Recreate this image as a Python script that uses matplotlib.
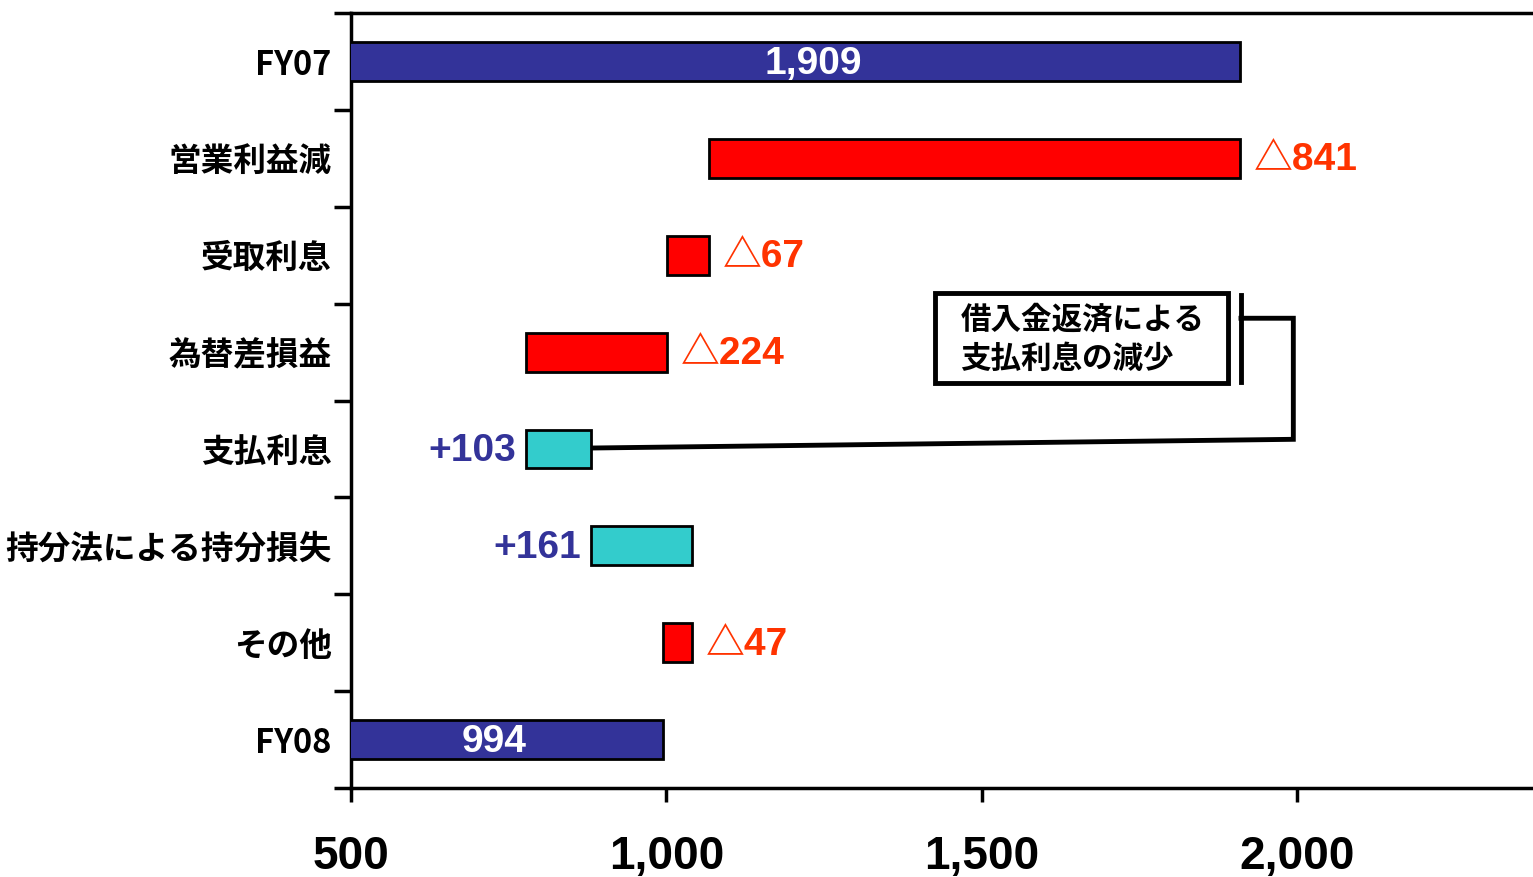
import matplotlib
matplotlib.use("Agg")
import matplotlib.pyplot as plt
from matplotlib.patches import Rectangle
import numpy as np

plt.rcParams['font.family'] = ['Liberation Sans', 'Noto Sans CJK JP', 'DejaVu Sans']

categories = ["FY07", "営業利益減", "受取利息", "為替差損益", "支払利息",
              "持分法による持分損失", "その他", "FY08"]
starts = [0, 1068, 1001, 777, 777, 880, 994, 0]
ends = [1909, 1909, 1068, 1001, 880, 1041, 1041, 994]
kinds = ["total", "down", "down", "down", "up", "up", "down", "total"]
labels = ["1,909", "△841", "△67", "△224", "+103", "+161", "△47", "994"]
note_text = "借入金返済による\n支払利息の減少"
xticks = [500, 1000, 1500, 2000]
xticklabels = ["500", "1,000", "1,500", "2,000"]

fill = {"total": "#333399", "down": "#FF0000", "up": "#33CCCC"}
txt_col = {"total": "white", "down": "#FF3300", "up": "#333399"}

xmin, xmax = 500, 2374

fig = plt.figure(figsize=(15.33, 8.77), dpi=100)
ax = fig.add_axes([0.229, 0.1015, 0.771, 0.8835])

y = np.arange(len(categories))
for i, (s, e, k, lab) in enumerate(zip(starts, ends, kinds, labels)):
    ax.barh(i, e - s, left=s, height=0.4, color=fill[k], edgecolor="black",
            linewidth=2, zorder=3)
    if k == "total":
        cx = xmin + (e - xmin) * (0.52 if i == 0 else 0.46)
        ax.text(cx, i + 0.03, lab, ha="center", va="center", color="white",
                fontsize=28, fontweight="bold", zorder=4)
    elif k == "down":
        ax.text(e + 22, i + 0.02, lab, ha="left", va="center", color=txt_col[k],
                fontsize=28, fontweight="bold", zorder=4)
    else:
        ax.text(s - 15, i + 0.02, lab, ha="right", va="center", color=txt_col[k],
                fontsize=28, fontweight="bold", zorder=4)

# connector from 支払利息 bar to the note bracket
ax.plot([ends[4], 1994, 1994, 1911], [3.99, 3.90, 2.65, 2.65],
        color="black", lw=3.5, solid_joinstyle="miter", zorder=2)
ax.plot([1911, 1911], [2.41, 3.31], color="black", lw=3.5, zorder=2)

# note box
ax.add_patch(Rectangle((1426, 2.39), 464, 0.93, fc="white", ec="black",
                       lw=3.5, zorder=5))
ax.text(1466, 2.87, note_text, ha="left", va="center", fontsize=22,
        fontweight="bold", family=["Noto Sans CJK JP"], linespacing=1.3,
        zorder=6)

ax.set_xlim(xmin, xmax)
ax.set_ylim(len(categories) - 0.5, -0.5)

ax.set_xticks(xticks)
ax.set_xticklabels(xticklabels, fontsize=33, fontweight="bold")
ax.tick_params(axis="x", length=10, width=2.5, pad=24, direction="out")

ax.set_yticks(y)
ax.set_yticklabels(categories, fontsize=23.5, fontweight="bold",
                   family=["Noto Sans CJK JP"])
ax.tick_params(axis="y", which="major", length=0, pad=14)
ax.set_yticks(np.arange(len(categories) + 1) - 0.5, minor=True)
ax.tick_params(axis="y", which="minor", length=12, width=2.5, direction="out")

for side in ["left", "top", "bottom"]:
    ax.spines[side].set_linewidth(2.5)
ax.spines["right"].set_visible(False)

fig.savefig("out.png", dpi=100)
